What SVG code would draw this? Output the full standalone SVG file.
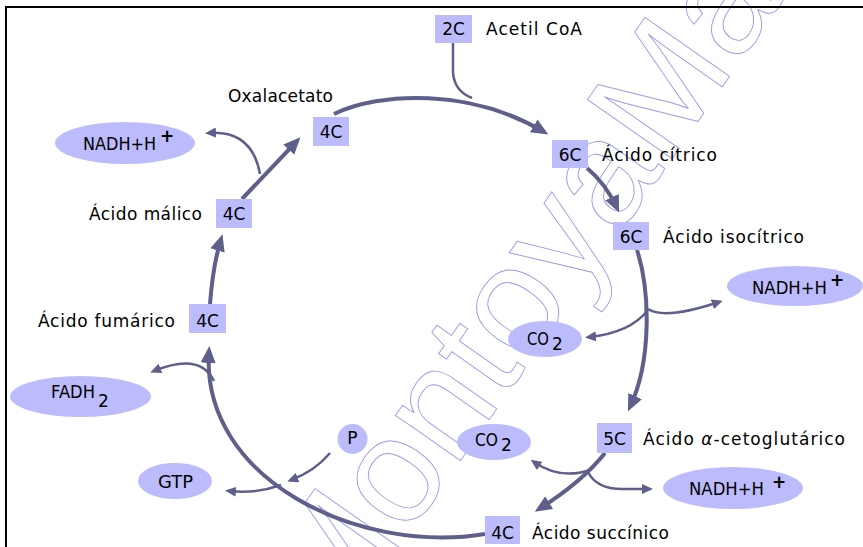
<svg xmlns="http://www.w3.org/2000/svg" width="863" height="547" viewBox="0 0 863 547">
<defs>
<style>
.box{fill:#bcbcfc}
.ell{fill:#bcbcfc}
.t{font-family:"DejaVu Sans","Liberation Sans",sans-serif;font-size:17px;fill:#000}
.c{text-anchor:middle}
.main{fill:none;stroke:#5e5f8a;stroke-width:4;stroke-linecap:butt}
.br{fill:none;stroke:#5e5f8a;stroke-width:2.5;stroke-linecap:butt}
.wm{font-family:"Liberation Sans",Arial,sans-serif;font-size:150px;fill:none;stroke:#9a9aec;stroke-width:0.9}
</style>
<marker id="big" markerUnits="userSpaceOnUse" markerWidth="17" markerHeight="15" refX="12" refY="7.5" orient="auto">
<path d="M0,0 L17,7.5 L0,15 z" fill="#5e5f8a"/>
</marker>
<marker id="sm" markerUnits="userSpaceOnUse" markerWidth="11" markerHeight="10" refX="7" refY="5" orient="auto">
<path d="M0,0 L11,5 L0,10 z" fill="#5e5f8a"/>
</marker>
</defs>
<rect x="0" y="0" width="863" height="547" fill="#fff"/>
<text class="wm" transform="translate(335,640) rotate(-55)">MontoyaMal</text>
<g id="frame">
<rect x="5" y="6" width="858" height="2" fill="#000"/>
<rect x="5" y="6" width="2" height="541" fill="#000"/>
</g>
<g id="connectors">
<path class="main" d="M334,114 C380,92 470,88 544,132" marker-end="url(#big)"/>
<path class="br" d="M453,43 L453,72 Q454,91 472,98"/>
<path class="main" d="M587,168 Q606,184 617,208" marker-end="url(#big)"/>
<path class="main" d="M637,250 C650,290 652,360 630,407" marker-end="url(#big)"/>
<path class="br" d="M648,310 Q630,333 589,337" marker-end="url(#sm)"/>
<path class="br" d="M648,309 Q665,320 719,302" marker-end="url(#sm)"/>
<path class="main" d="M605,453 Q582,482 539,509" marker-end="url(#big)"/>
<path class="br" d="M590,470 Q560,480 534,462" marker-end="url(#sm)"/>
<path class="br" d="M588,472 Q597,490 625,489 L649,489" marker-end="url(#sm)"/>
<path class="main" d="M485,534 C360,555 200,480 209,351" marker-end="url(#big)"/>
<path class="br" d="M214,381 Q200,352 154,371" marker-end="url(#sm)"/>
<path class="br" d="M330,453 Q315,471 291,480" marker-end="url(#sm)"/>
<path class="br" d="M281,485 Q256,494 229,491" marker-end="url(#sm)"/>
<path class="main" d="M210,304 Q213,265 221,239" marker-end="url(#big)"/>
<path class="main" d="M242,199 L297,141" marker-end="url(#big)"/>
<path class="br" d="M260,174 Q252,130 209,133" marker-end="url(#sm)"/>
</g>
<g id="acetilcoa">
<rect class="box" x="435" y="15" width="37" height="28"/>
<text class="t c" x="453.5" y="35">2C</text>
<text class="t" x="486" y="35" textLength="96" lengthAdjust="spacing">Acetil CoA</text>
</g>
<g id="citrico">
<rect class="box" x="552" y="140" width="36" height="28"/>
<text class="t c" x="570" y="161">6C</text>
<text class="t" x="602" y="161" textLength="115" lengthAdjust="spacing">Ácido cítrico</text>
</g>
<g id="isocitrico">
<rect class="box" x="613" y="222" width="36" height="28"/>
<text class="t c" x="631" y="243">6C</text>
<text class="t" x="663" y="243" textLength="141" lengthAdjust="spacing">Ácido isocítrico</text>
</g>
<g id="cetoglutarico">
<rect class="box" x="597" y="423" width="35" height="30"/>
<text class="t c" x="614.5" y="445">5C</text>
<text class="t" x="643" y="445" textLength="202" lengthAdjust="spacing">Ácido <tspan font-style="italic">α</tspan>-cetoglutárico</text>
</g>
<g id="succinico">
<rect class="box" x="485" y="516" width="35" height="28"/>
<text class="t c" x="502.5" y="539">4C</text>
<text class="t" x="532" y="539" textLength="137" lengthAdjust="spacing">Ácido succínico</text>
</g>
<g id="fumarico">
<rect class="box" x="189" y="304" width="37" height="29"/>
<text class="t c" x="207.5" y="327">4C</text>
<text class="t" x="38" y="327" textLength="137" lengthAdjust="spacing">Ácido fumárico</text>
</g>
<g id="malico">
<rect class="box" x="216" y="199" width="36" height="29"/>
<text class="t c" x="234" y="220">4C</text>
<text class="t" x="89" y="220" textLength="113" lengthAdjust="spacing">Ácido málico</text>
</g>
<g id="oxalacetato">
<rect class="box" x="313" y="117" width="36" height="29"/>
<text class="t c" x="331" y="138">4C</text>
<text class="t" x="228" y="102" textLength="105" lengthAdjust="spacing">Oxalacetato</text>
</g>
<g id="nadh1">
<ellipse class="ell" cx="125" cy="143" rx="70" ry="21"/>
<text class="t" x="83" y="150" textLength="73" lengthAdjust="spacingAndGlyphs">NADH+H</text>
<text class="t" x="160" y="142" font-weight="bold" font-size="14">+</text>
</g>
<g id="nadh2">
<ellipse class="ell" cx="795" cy="286" rx="68" ry="20"/>
<text class="t" x="752" y="294" textLength="75" lengthAdjust="spacingAndGlyphs">NADH+H</text>
<text class="t" x="830" y="286" font-weight="bold" font-size="14">+</text>
</g>
<g id="nadh3">
<ellipse class="ell" cx="733" cy="488" rx="70" ry="21"/>
<text class="t" x="689" y="495" textLength="75" lengthAdjust="spacingAndGlyphs">NADH+H</text>
<text class="t" x="772" y="488" font-weight="bold" font-size="14">+</text>
</g>
<g id="co2a">
<ellipse class="ell" cx="545" cy="339" rx="37" ry="18"/>
<text class="t" x="527" y="345" textLength="22" lengthAdjust="spacingAndGlyphs">CO</text>
<text class="t" x="552" y="350">2</text>
</g>
<g id="co2b">
<ellipse class="ell" cx="494" cy="442" rx="37" ry="18"/>
<text class="t" x="475" y="446" textLength="23" lengthAdjust="spacingAndGlyphs">CO</text>
<text class="t" x="501" y="451">2</text>
</g>
<g id="fadh2">
<ellipse class="ell" cx="80.5" cy="396.5" rx="70.5" ry="20.5"/>
<text class="t" x="51" y="398" textLength="44" lengthAdjust="spacingAndGlyphs">FADH</text>
<text class="t" x="98" y="407">2</text>
</g>
<g id="gtp">
<ellipse class="ell" cx="175" cy="481" rx="37" ry="18"/>
<text class="t" x="158" y="488" textLength="35" lengthAdjust="spacingAndGlyphs">GTP</text>
</g>
<g id="p">
<circle class="ell" cx="352.5" cy="439" r="15"/>
<text class="t c" x="352.5" y="444">P</text>
</g>
</svg>
